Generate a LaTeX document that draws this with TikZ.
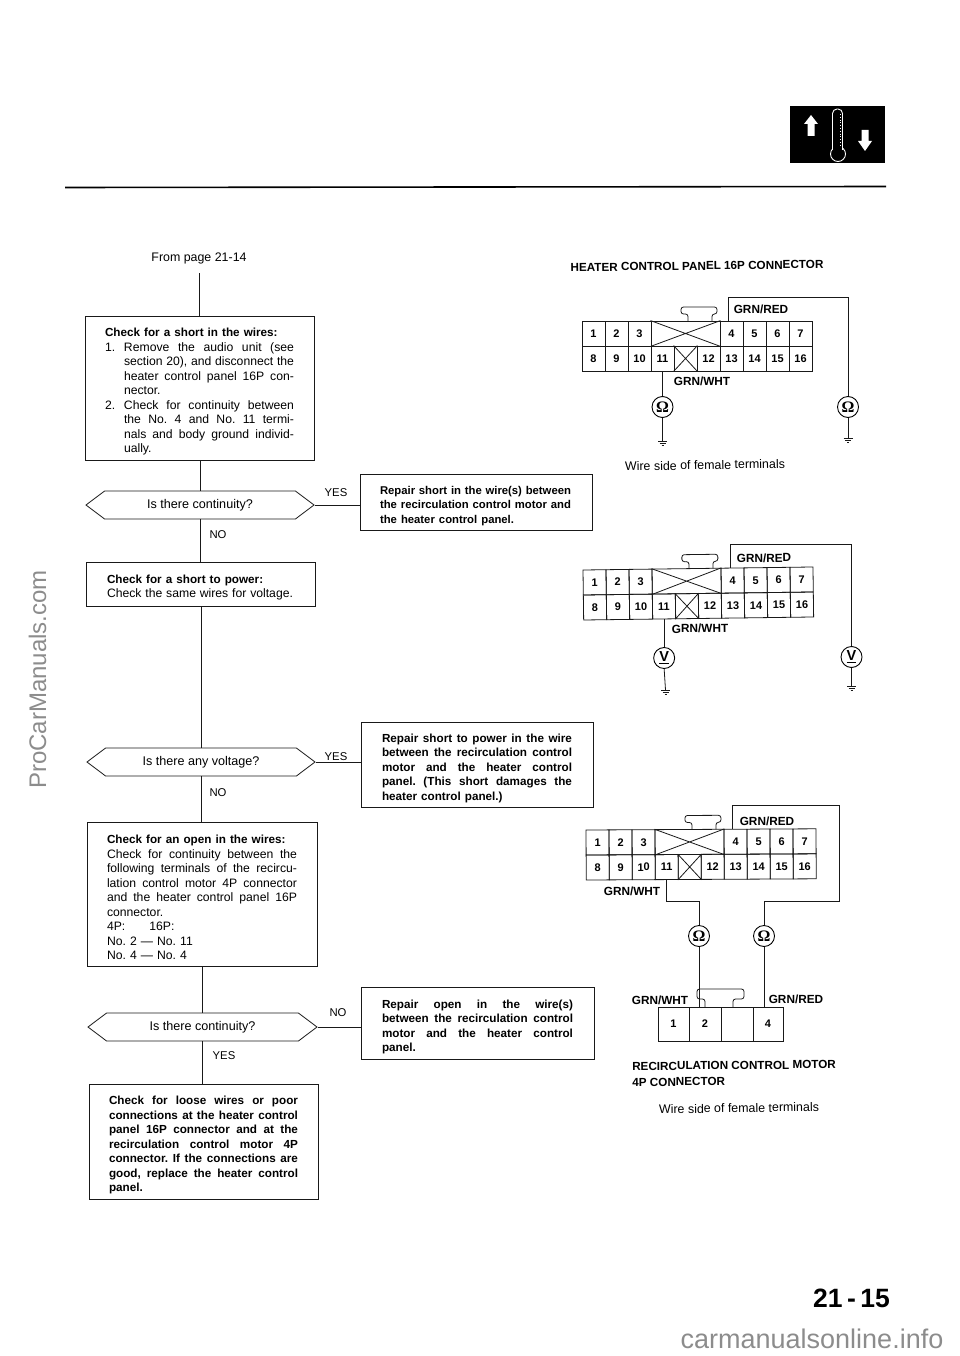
\documentclass[tikz,border=0pt]{standalone}
\usepackage{fontspec}
\setmainfont{Liberation Sans}
\newfontfamily\omfont{Liberation Serif}
\usetikzlibrary{shapes.symbols}
\newcommand\jl[2]{\makebox[#1pt][s]{\spaceskip=.27em plus 6em minus .05em\relax #2}}
\newcommand\ix{\hspace*{19pt}}
\newcommand\bff{\fontsize{11.7}{14.5}\selectfont\bfseries}
\newcommand\bfs{\fontsize{11.3}{14.2}\selectfont\bfseries}
\tikzset{
  ln/.style={line width=0.8pt,black!90},
  flowbox/.style={draw=black!90,line width=0.8pt,inner sep=0pt,align=left,font=\fontsize{12.2}{14.5}\selectfont\frenchspacing,execute at begin node={\rule{0pt}{16pt}}},
  hexbox/.style={draw=black!90,line width=0.8pt,signal,signal to=east and west,signal pointer angle=74,inner sep=0pt,minimum height=28pt,font=\fontsize{12.6}{13}\selectfont},
  lab/.style={font=\fontsize{11.3}{13}\selectfont,inner sep=0pt},
  wirelab/.style={font=\bfseries\fontsize{11.8}{13}\selectfont,inner sep=0pt},
  cellbox/.style={draw=black!90,line width=0.8pt,inner sep=0pt,font=\bfseries\fontsize{11}{12}\selectfont},
  meter/.style={draw=black,circle,line width=0.9pt,minimum size=21pt,inner sep=0pt,font=\bfseries\fontsize{16}{16}\selectfont},
  vmeter/.style={meter,font=\bfseries\fontsize{14.5}{15}\selectfont},
  note/.style={font=\fontsize{12.4}{13}\selectfont,inner sep=0pt},
  title/.style={font=\bfseries\fontsize{11.7}{16}\selectfont,inner sep=0pt,align=left},
  wmark/.style={text=black!45,inner sep=0pt,font=\fontsize{24}{26}\selectfont}
}
% one cell of a connector: prefix, text, x, y, width, height (centre)
\newcommand\cel[6]{\node[cellbox,minimum width=#5pt,minimum height=#6pt] (#1-#2) at (#3,#4) {#2};}
\newcommand\sixteen[4]{%
 \begin{scope}[shift={(#2,#3)},rotate=#4,transform shape]
  \cel{#1}{1}{11.5}{12.5}{23}{25}\cel{#1}{2}{34.5}{12.5}{23}{25}\cel{#1}{3}{57.5}{12.5}{23}{25}
  \node[cellbox,minimum width=69pt,minimum height=25pt] (#1-a) at (103.5,12.5) {};
  \draw[ln] (#1-a.north west) -- (#1-a.south east) (#1-a.south west) -- (#1-a.north east);
  \cel{#1}{4}{149.5}{12.5}{23}{25}\cel{#1}{5}{172.5}{12.5}{23}{25}\cel{#1}{6}{195.5}{12.5}{23}{25}\cel{#1}{7}{218.5}{12.5}{23}{25}
  \cel{#1}{8}{11.5}{37.5}{23}{25}\cel{#1}{9}{34.5}{37.5}{23}{25}\cel{#1}{10}{57.5}{37.5}{23}{25}\cel{#1}{11}{80.5}{37.5}{23}{25}
  \node[cellbox,minimum width=23pt,minimum height=25pt] (#1-b) at (103.5,37.5) {};
  \draw[ln] (#1-b.north west) -- (#1-b.south east) (#1-b.south west) -- (#1-b.north east);
  \cel{#1}{12}{126.5}{37.5}{23}{25}\cel{#1}{13}{149.5}{37.5}{23}{25}\cel{#1}{14}{172.5}{37.5}{23}{25}\cel{#1}{15}{195.5}{37.5}{23}{25}\cel{#1}{16}{218.5}{37.5}{23}{25}
  \draw[ln,rounded corners=2.5pt] (106,0) -- (106,-7) -- (99,-7) -- (99,-14) -- (135,-14) -- (135,-7) -- (130,-7) -- (130,0);
 \end{scope}}
% ground under a named coordinate
\newcommand\gnd[3]{\coordinate (#1) at (#2,#3);
 \draw[ln] ([xshift=-4.5pt]#1) -- ([xshift=4.5pt]#1)
  ([xshift=-3pt,yshift=-2pt]#1) -- ([xshift=3pt,yshift=-2pt]#1)
  ([xshift=-1pt,yshift=-4pt]#1) -- ([xshift=1pt,yshift=-4pt]#1);}
\newcommand\ohmsym{{\omfont\bfseries\symbol{"03A9}}}
\begin{document}
\begin{tikzpicture}[x=1pt,y=-1pt]
\useasboundingbox (0,0) rectangle (960,1356);
% page furniture
\draw[line width=1.6pt,black] (65,187.5) -- (886,186.5);
\fill[black] (790,106) rectangle (885,163);
\draw[white,fill=black,line width=0.9pt] (838,154) circle[radius=7.5pt];
\draw[white,fill=black,line width=0.9pt,rounded corners=4.5pt] (832.5,150) -- (832.5,109) -- (842.5,109) -- (842.5,150);
\draw[white,line width=0.7pt,dash pattern=on 0.8pt off 2pt] (840.5,114) -- (840.5,147);
\fill[white] (811,115) -- (818,124) -- (814.5,124) -- (814.5,136) -- (807.5,136) -- (807.5,124) -- (804,124) -- cycle;
\fill[white] (865,151) -- (872,141) -- (868.5,141) -- (868.5,130) -- (861.5,130) -- (861.5,141) -- (858,141) -- cycle;
\node[inner sep=0pt,font=\bfseries\fontsize{26.5}{28}\selectfont] (pageno) at (851.5,1298.5) {21\,-\,15};
\node[wmark,rotate=90] (mark1) at (37.5,679.5) {ProCarManuals.com};
\node[wmark,font=\fontsize{27}{29}\selectfont] (mark2) at (812,1339) {carmanualsonline.info};
% left column
\node[note] (from) at (199,258) {From page 21-14};
\coordinate (start) at (199,273);
\node[flowbox,minimum width=229pt,minimum height=144pt,text width=189pt] (b1) at (199.5,388) {%
{\bff Check for a short in the wires:}\\
\makebox[19pt][l]{1.}\jl{170}{Remove the audio unit (see}\\
\ix\jl{170}{section 20), and disconnect the}\\
\ix\jl{170}{heater control panel 16P con-}\\
\ix nector.\\
\makebox[19pt][l]{2.}\jl{170}{Check for continuity between}\\
\ix\jl{170}{the No. 4 and No. 11 termi-}\\
\ix\jl{170}{nals and body ground individ-}\\
\ix ually.};
\node[hexbox,minimum width=228pt] (h1) at (200,505) {Is there continuity?};
\node[flowbox,minimum width=229pt,minimum height=44pt,text width=187pt] (b2) at (200.5,584) {%
{\bff Check for a short to power:}\\
\jl{186}{Check the same wires for voltage.}};
\node[hexbox,minimum width=228pt] (h2) at (201,762) {Is there any voltage?};
\node[flowbox,minimum width=230pt,minimum height=144pt,text width=190pt] (b3) at (202,894) {%
{\bff Check for an open in the wires:}\\
\jl{190}{Check for continuity between the}\\
\jl{190}{following terminals of the recircu-}\\
\jl{190}{lation control motor 4P connector}\\
\jl{190}{and the heater control panel 16P}\\
connector.\\
4P:\hspace{24pt}16P:\\
No. 2 --- No. 11\\
No. 4 --- No. 4};
\node[hexbox,minimum width=229pt] (h3) at (202.5,1027) {Is there continuity?};
\node[flowbox,minimum width=229pt,minimum height=115pt,text width=189pt] (b4) at (203.5,1141.5) {\bff
\jl{189}{Check for loose wires or poor}\\
\jl{189}{connections at the heater control}\\
\jl{189}{panel 16P connector and at the}\\
\jl{189}{recirculation control motor 4P}\\
\jl{189}{connector. If the connections are}\\
\jl{189}{good, replace the heater control}\\
panel.};
% right flow boxes
\node[flowbox,minimum width=232pt,minimum height=56pt,text width=192pt] (r1) at (476,502) {\bfs
\jl{191}{Repair short in the wire(s) between}\\
\jl{191}{the recirculation control motor and}\\
the heater control panel.};
\node[flowbox,minimum width=232pt,minimum height=85pt,text width=190pt] (r2) at (477,764.5) {\bff
\jl{190}{Repair short to power in the wire}\\
\jl{190}{between the recirculation control}\\
\jl{190}{motor and the heater control}\\
\jl{190}{panel. (This short damages the}\\
heater control panel.)};
\node[flowbox,minimum width=233pt,minimum height=72pt,text width=191pt] (r3) at (477.5,1023) {\bff
\jl{191}{Repair open in the wire(s)}\\
\jl{191}{between the recirculation control}\\
\jl{191}{motor and the heater control}\\
panel.};
% flow connectors
\draw[ln] (start) -- (start |- b1.north);
\draw[ln] (h1.north |- b1.south) -- (h1.north);
\draw[ln] (h1.south) -- (h1.south |- b2.north);
\draw[ln] (h2.north |- b2.south) -- (h2.north);
\draw[ln] (h2.south) -- (h2.south |- b3.north);
\draw[ln] (h3.north |- b3.south) -- (h3.north);
\draw[ln] (h3.south) -- (h3.south |- b4.north);
\draw[ln] (h1.east) -- (h1.east -| r1.west);
\draw[ln] (h2.east) -- (h2.east -| r2.west);
\draw[ln] (h3.east) -- (h3.east -| r3.west);
\node[lab] (no1) at (218,535) {NO};
\node[lab] (no2) at (218,793) {NO};
\node[lab] (yes3) at (224,1056) {YES};
\node[lab] (yes1) at (336,493) {YES};
\node[lab] (yes2) at (336,757) {YES};
\node[lab] (no3) at (338,1013) {NO};
% first connector
\node[title,rotate=0.7] (t1) at (697,266) {HEATER CONTROL PANEL 16P CONNECTOR};
\sixteen{a}{582}{321}{0}
\node[wirelab] at (761,309.5) {GRN/RED};
\node[wirelab] at (702,381.5) {GRN/WHT};
\node[meter] (am1) at (a-11.south |- 0,407) {\ohmsym};
\node[meter] (am2) at (848,407) {\ohmsym};
\coordinate (ac) at (848,297);
\draw[ln] ([xshift=-3pt]a-4.north) |- (ac) -- (am2.north);
\draw[ln] (a-11.south) -- (am1.north);
\gnd{ag1}{662.5}{441}\gnd{ag2}{848}{438}
\draw[ln] (am1.south) -- (ag1);
\draw[ln] (am2.south) -- (ag2);
\node[note,rotate=1] (w1) at (705,465) {Wire side of female terminals};
% second connector
\sixteen{b}{583}{570}{0.75}
\node[wirelab,rotate=0.75] at (764,558) {GRN/RED};
\node[wirelab,rotate=0.75] at (700,628.5) {GRN/WHT};
\node[vmeter] (bm1) at (b-11.south |- 0,658) {\underline{V}};
\node[vmeter] (bm2) at (851.5,657) {\underline{V}};
\coordinate (bc) at (851.5,544);
\draw[ln] ([xshift=-2pt]b-4.north) |- (bc) -- (bm2.north);
\draw[ln] (b-11.south) -- (bm1.north);
\gnd{bg1}{665.5}{690}\gnd{bg2}{851.5}{686}
\draw[ln] (bm1.south) -- (bg1);
\draw[ln] (bm2.south) -- (bg2);
% third connector
\sixteen{c}{586}{830}{0.3}
\node[wirelab] at (767,821) {GRN/RED};
\node[wirelab] at (632,891) {GRN/WHT};
\node[meter] (cm1) at (699,936) {\ohmsym};
\node[meter] (cm2) at (764,936) {\ohmsym};
\coordinate (cc1) at (839,805);
\coordinate (cc2) at (839,901);
\coordinate (cc3) at (699,901);
\draw[ln] ([xshift=-3pt]c-4.north) |- (cc1) -- (cc2) -| (cm2.north);
\draw[ln] (c-11.south) |- (cc3) -- (cm1.north);
% 4P connector
\cel{d}{1}{673.5}{1024}{31}{34}\cel{d}{2}{705}{1024}{32}{34}
\node[cellbox,minimum width=32pt,minimum height=34pt] (d-3) at (737,1024) {};
\cel{d}{4}{768}{1024}{30}{34}
\draw[ln,rounded corners=2.5pt] (705,1007) -- (705,999) -- (697,999) -- (697,989) -- (744,989) -- (744,999) -- (733,999) -- (733,1007);
\draw[ln] (cm1.south) -- (cm1.south |- d-2.north);
\draw[ln] (cm2.south) -- (cm2.south |- d-4.north);
\node[wirelab] at (660,1000) {GRN/WHT};
\node[wirelab] at (796,999) {GRN/RED};
\node[title,anchor=north west,rotate=0.5] (t2) at (632,1062) {RECIRCULATION CONTROL MOTOR\\4P CONNECTOR};
\node[note,rotate=0.8] (w2) at (739,1108) {Wire side of female terminals};
\end{tikzpicture}
\end{document}
